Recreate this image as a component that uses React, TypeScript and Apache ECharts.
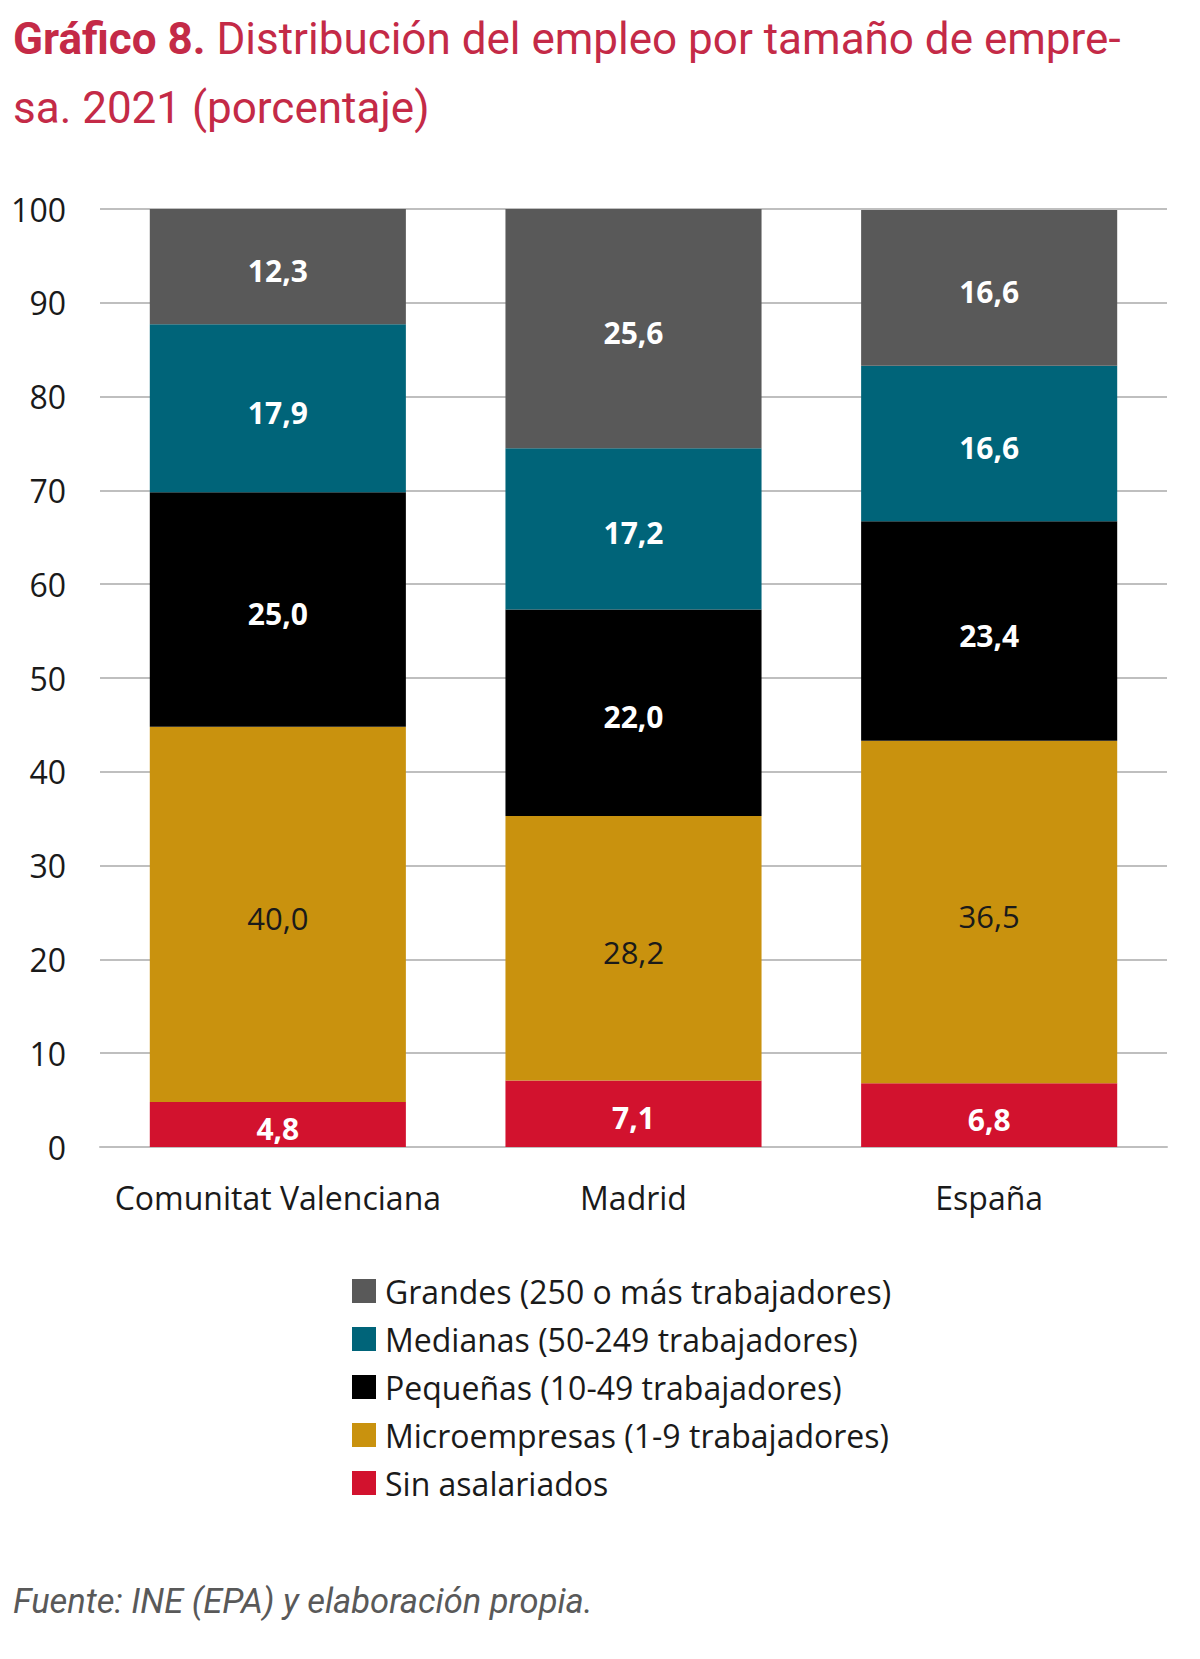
import React, { useEffect, useRef } from "react";
import * as echarts from "echarts";

const categories = ["Comunitat Valenciana", "Madrid", "España"];
const sinAsalariados = [4.8, 7.1, 6.8];
const microempresas = [40.0, 28.2, 36.5];
const pequenas = [25.0, 22.0, 23.4];
const medianas = [17.9, 17.2, 16.6];
const grandes = [12.3, 25.6, 16.6];
const yTicks = [0, 10, 20, 30, 40, 50, 60, 70, 80, 90, 100];

const seriesNames = [
  "Sin asalariados",
  "Microempresas (1-9 trabajadores)",
  "Pequeñas (10-49 trabajadores)",
  "Medianas (50-249 trabajadores)",
  "Grandes (250 o más trabajadores)",
];
const seriesData = [sinAsalariados, microempresas, pequenas, medianas, grandes];
const seriesColors = ["#D2122E", "#C9920E", "#000000", "#006479", "#595959"];
const labelColors = ["#ffffff", "#1a1a1a", "#ffffff", "#ffffff", "#ffffff"];
const labelWeights = ["bold", "normal", "bold", "bold", "bold"];
const labelSizes = [30, 31, 30, 30, 30];

const FONT = "'Open Sans', sans-serif";
const TITLE_FONT = "Roboto, sans-serif";

export default function App() {
  const ref = useRef<HTMLDivElement>(null);
  useEffect(() => {
    document.body.style.margin = "0";
    if (!ref.current) return;
    const chart = echarts.init(ref.current, null, { renderer: "svg" });
    const fmt = (v: number) => v.toFixed(1).replace(".", ",");
    chart.setOption({
      animation: false,
      backgroundColor: "#ffffff",
      grid: { left: 100, right: 33, top: 209, bottom: 512, containLabel: false },
      xAxis: {
        type: "category",
        data: categories,
        axisLine: { show: true, lineStyle: { color: "#BFBFBF", width: 2 } },
        axisTick: { show: false },
        axisLabel: { color: "#1a1a1a", fontSize: 32, fontFamily: FONT, margin: 34, interval: 0 },
      },
      yAxis: {
        type: "value",
        min: yTicks[0],
        max: yTicks[yTicks.length - 1],
        interval: 10,
        axisLine: { show: false },
        axisTick: { show: false },
        splitLine: { lineStyle: { color: "#BFBFBF", width: 2 } },
        axisLabel: { color: "#1a1a1a", fontSize: 32, fontFamily: FONT, margin: 34 },
      },
      legend: {
        orient: "vertical",
        left: 347,
        top: 1270,
        itemWidth: 24,
        itemHeight: 24,
        itemGap: 16,
        icon: "rect",
        data: [...seriesNames].reverse(),
        textStyle: { color: "#1a1a1a", fontSize: 32, fontFamily: FONT, padding: [0, 0, 0, 4] },
      },
      graphic: [
        {
          type: "text",
          left: 13,
          top: 17,
          style: {
            text: "{b|Gráfico 8.} Distribución del empleo por tamaño de empre-",
            fill: "#C42A47",
            font: `44px ${TITLE_FONT}`,
            rich: {
              b: { fontWeight: "bold", fontSize: 44, fontFamily: TITLE_FONT, fill: "#C42A47" },
            },
          },
        },
        {
          type: "text",
          left: 13,
          top: 86,
          style: {
            text: "sa. 2021 (porcentaje)",
            fill: "#C42A47",
            font: `44px ${TITLE_FONT}`,
          },
        },
        {
          type: "text",
          left: 13,
          top: 1583,
          style: {
            text: "Fuente: INE (EPA) y elaboración propia.",
            fill: "#595959",
            font: `italic 34.5px ${TITLE_FONT}`,
          },
        },
      ],
      series: seriesNames.map((name, i) => ({
        name,
        type: "bar",
        stack: "total",
        barWidth: "72%",
        data: seriesData[i],
        itemStyle: { color: seriesColors[i] },
        label: {
          show: true,
          position: "inside",
          offset: [0, 4],
          color: labelColors[i],
          fontWeight: labelWeights[i],
          fontSize: labelSizes[i],
          fontFamily: FONT,
          formatter: (p: any) => fmt(p.value),
        },
      })),
    });
    return () => chart.dispose();
  }, []);
  return <div ref={ref} style={{ width: 1200, height: 1659 }} />;
}
